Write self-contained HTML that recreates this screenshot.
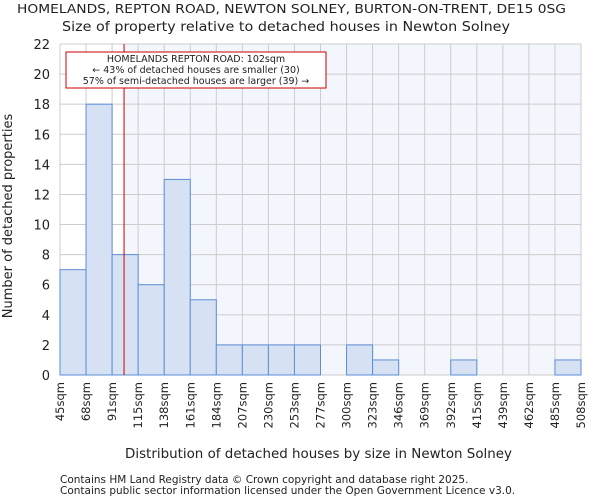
<!DOCTYPE html>
<html><head><meta charset="utf-8"><style>
body{margin:0;background:#fff;font-family:"DejaVu Sans","Liberation Sans",sans-serif;}
svg text{font-family:"DejaVu Sans","Liberation Sans",sans-serif;fill:#222;}
</style></head><body>
<svg id="chart" width="600" height="500" viewBox="0 0 600 500">
<text x="17" y="13" font-size="12.5" textLength="549" lengthAdjust="spacingAndGlyphs">HOMELANDS, REPTON ROAD, NEWTON SOLNEY, BURTON-ON-TRENT, DE15 0SG</text>
<text x="62" y="31" font-size="13" textLength="448" lengthAdjust="spacingAndGlyphs">Size of property relative to detached houses in Newton Solney</text>
<g id="plot"></g>
<text x="125" y="458" font-size="13" textLength="387" lengthAdjust="spacingAndGlyphs">Distribution of detached houses by size in Newton Solney</text>
<text transform="translate(12,216) rotate(-90)" text-anchor="middle" font-size="13">Number of detached properties</text>
<text x="60" y="483" font-size="10.5">Contains HM Land Registry data © Crown copyright and database right 2025.</text>
<text x="60" y="494" font-size="10.5">Contains public sector information licensed under the Open Government Licence v3.0.</text>
</svg>
<script>
const binLabels=["45sqm","68sqm","91sqm","115sqm","138sqm","161sqm","184sqm","207sqm","230sqm","253sqm","277sqm","300sqm","323sqm","346sqm","369sqm","392sqm","415sqm","439sqm","462sqm","485sqm","508sqm"];
const binEdges=[45,68,91,115,138,161,184,207,230,253,277,300,323,346,369,392,415,439,462,485,508];
const counts=[7,18,8,6,13,5,2,2,2,2,0,2,1,0,0,1,0,0,0,1];
const yTicks=[0,2,4,6,8,10,12,14,16,18,20,22];
const markerValue=102;
const NS="http://www.w3.org/2000/svg";
const L=60,R=581,T=44,B=375,yMax=22;
const nb=counts.length;
const bw=(R-L)/nb;
function xIdx(i){return L+i*bw;}
function xVal(v){for(let i=0;i<binEdges.length-1;i++){if(v<=binEdges[i+1])return xIdx(i)+(v-binEdges[i])/(binEdges[i+1]-binEdges[i])*bw;}return R;}
function y(v){return B-(v/yMax)*(B-T);}
const g=document.getElementById('plot');
function mk(t,a){const e=document.createElementNS(NS,t);for(const k in a)e.setAttribute(k,a[k]);g.appendChild(e);return e;}
let e=mk('rect',{x:L,y:T,width:R-L,height:B-T,fill:'#fff'});


const mx=xVal(markerValue);
e=mk('rect',{x:mx,y:T,width:R-mx,height:B-T,fill:'#f3f6fd'});


for(let i=0;i<=nb;i++){e=mk('line',{x1:xIdx(i),x2:xIdx(i),y1:T,y2:B,stroke:'#cccccc','stroke-width':1});

}
yTicks.forEach(t=>{e=mk('line',{x1:L,x2:R,y1:y(t),y2:y(t),stroke:'#cccccc','stroke-width':1});


const tx=mk('text',{x:L-10,y:y(t)+5,'text-anchor':'end','font-size':13});tx.textContent=t;

});
counts.forEach((c,i)=>{if(c<=0)return;const r=mk('rect',{x:xIdx(i),y:y(c),width:bw,height:B-y(c),fill:'#d6e2f3',stroke:'#5b8fd6','stroke-width':1});

});
binLabels.forEach((lb,i)=>{const x=xIdx(i)+4;const t=mk('text',{transform:`translate(${x},${B+7}) rotate(-90)`,'text-anchor':'end','font-size':11.5});t.textContent=lb;

});
e=mk('line',{x1:mx,x2:mx,y1:T,y2:B,stroke:'#cc0000','stroke-width':1});


e=mk('rect',{x:66,y:52,width:260,height:36,fill:'#fff',stroke:'#cc0000','stroke-width':1});


["HOMELANDS REPTON ROAD: 102sqm","← 43% of detached houses are smaller (30)","57% of semi-detached houses are larger (39) →"].forEach((s,i)=>{const t=mk('text',{x:196,y:62+i*11,'text-anchor':'middle','font-size':9.5});t.textContent=s;

});
</script>
</body></html>
